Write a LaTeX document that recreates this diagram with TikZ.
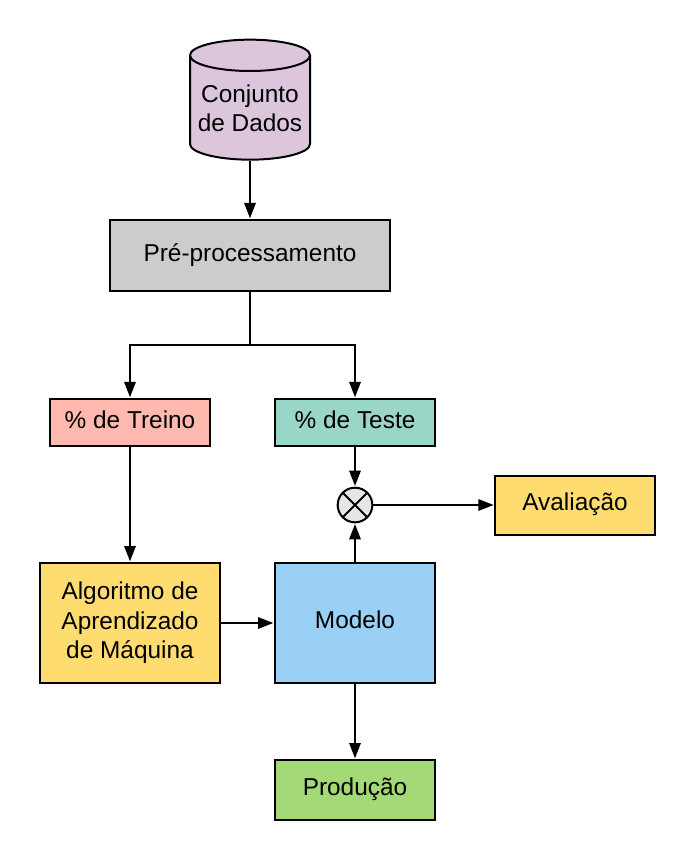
\documentclass[tikz,border=0pt]{standalone}
\usepackage{fontspec}
\setmainfont{Liberation Sans}
\usepackage{tikz}
\usetikzlibrary{arrows.meta,shapes.geometric}

\definecolor{dadosfill}{HTML}{DCC6DC}
\definecolor{prepfill}{HTML}{CCCCCC}
\definecolor{treinofill}{HTML}{FFB9AE}
\definecolor{testefill}{HTML}{9AD6C7}
\definecolor{amarelofill}{HTML}{FFDC70}
\definecolor{modelofill}{HTML}{9AD0F5}
\definecolor{prodfill}{HTML}{A3D977}
\definecolor{somafill}{HTML}{E6E6E6}

\tikzset{
    caixa/.style = {draw, line width=1.5pt, align=center, font=\fontsize{18.3}{22}\selectfont, inner sep=0pt},
    linha/.style = {caixa, text height=13pt, text depth=4.5pt},
    dados/.style = {caixa, shape=cylinder, shape border rotate=90, shape aspect=0.3, fill=dadosfill, minimum width=90pt, minimum height=90pt},
    soma/.style = {draw, line width=1.5pt, circle, fill=somafill, minimum size=26pt, inner sep=0pt,
        path picture={\draw[line width=1.5pt] (path picture bounding box.north west) -- (path picture bounding box.south east)
            (path picture bounding box.north east) -- (path picture bounding box.south west);}}
}

\begin{document}
\begin{tikzpicture}[x=0.75pt, y=-0.75pt, >={Triangle[length=11.5pt,width=8.5pt]}, line width=1.5pt]
\useasboundingbox (0,0) rectangle (695,860);
\node[dados] (dados) at (250,108) {Conjunto\\de Dados};
\node[linha, fill=prepfill, minimum width=210pt, minimum height=53.25pt, node distance=110.6pt] (prep) [below of = dados] {Pré-processamento};
\coordinate (split) at (250,345);
\node[linha, fill=testefill, minimum width=120pt, minimum height=35.25pt, node distance=125.25pt, xshift=78.75pt] (teste) [below of = prep] {\% de Teste};
\node[soma, node distance=61.9pt] (mult) [below of = teste] {};
\node[linha, fill=amarelofill, minimum width=119.5pt, minimum height=44.25pt, node distance=165pt] (aval) [right of = mult] {Avaliação};
\node[linha, fill=modelofill, minimum width=120pt, minimum height=90pt, node distance=88.5pt] (modelo) [below of = mult] {Modelo};
\node[caixa, fill=amarelofill, minimum width=135pt, minimum height=90pt, node distance=168.75pt] (algo) [left of = modelo] {Algoritmo de\\Aprendizado\\de Máquina};
\node[linha, fill=treinofill, minimum width=120pt, minimum height=35.25pt, node distance=150.4pt] (treino) [above of = algo] {\% de Treino};
\node[linha, fill=prodfill, minimum width=120pt, minimum height=45pt, node distance=125.25pt] (prod) [below of = modelo] {Produção};

\draw[->, shorten >=0.5pt] (dados) -- (prep);
\draw (prep) -- (split);
\draw[->, shorten >=0.5pt] (split) -| (treino);
\draw[->, shorten >=0.5pt] (split) -| (teste);
\draw[->, shorten >=0.5pt] (treino) -- (algo);
\draw[->, shorten >=0.5pt] (teste) -- (mult);
\draw[->, shorten >=0.5pt] (mult) -- (aval);
\draw[->, shorten >=0.5pt] (modelo) -- (mult);
\draw[->, shorten >=0.5pt] (algo) -- (modelo);
\draw[->, shorten >=0.5pt] (modelo) -- (prod);
\end{tikzpicture}
\end{document}
